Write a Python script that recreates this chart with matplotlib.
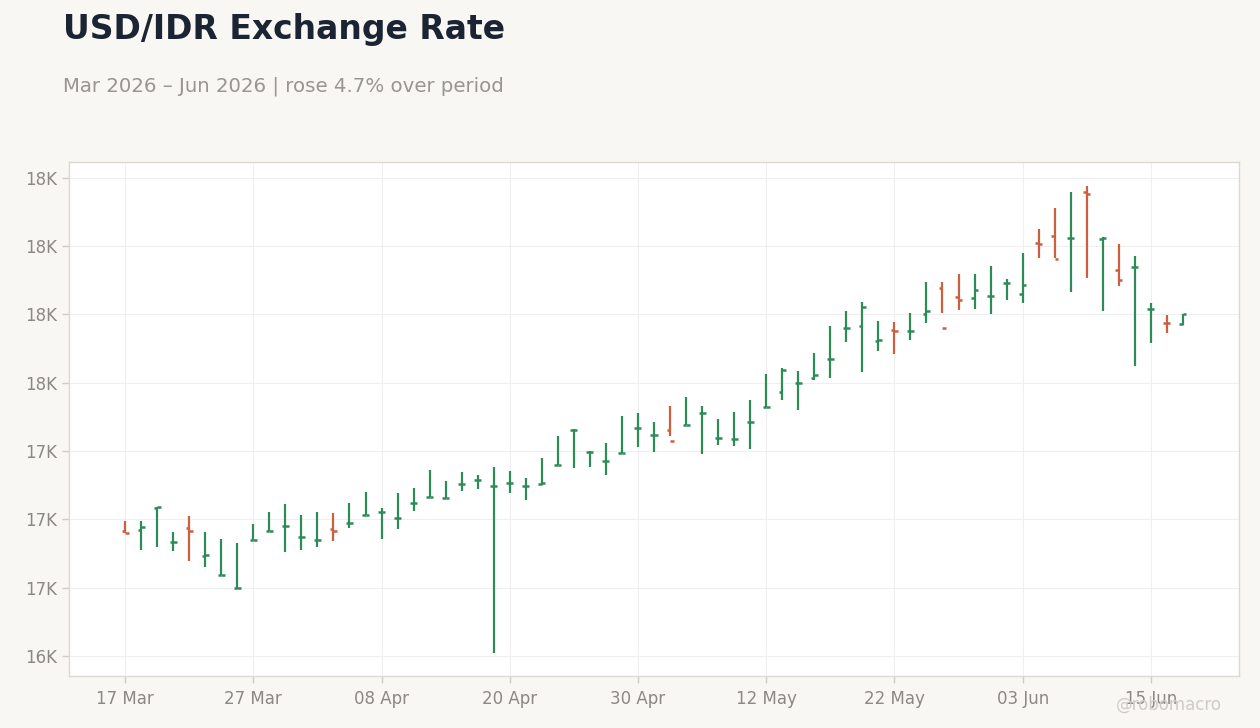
import numpy as np
import pandas as pd
import matplotlib
matplotlib.use("Agg")
import matplotlib.pyplot as plt
from matplotlib.ticker import FixedLocator, FuncFormatter

# daily OHLC, USD/IDR (business days from 17 Mar 2026)
dates = pd.bdate_range("2026-03-17", periods=67)

opens = [16956, 16962, 17042, 16918, 16970, 16867, 16797, 16750, 16925, 16958,
         16977, 16937, 16925, 16966, 16988, 17016, 17028, 17006, 17061, 17082,
         17080, 17131, 17145, 17124, 17134, 17124, 17131, 17199, 17328, 17248,
         17215, 17244, 17336, 17310, 17328, 17346, 17391, 17299, 17296, 17358,
         17413, 17468, 17501, 17519, 17588, 17702, 17709, 17654, 17695, 17691,
         17753, 17848, 17815, 17812, 17819, 17864, 17826, 18011, 18039, 18031,
         18200, 18028, 17912, 17922, 17771, 17720, 17715]
highs = [16994, 16994, 17047, 16954, 17012, 16954, 16928, 16915, 16983, 17027,
         17057, 17016, 17027, 17024, 17060, 17100, 17042, 17097, 17115, 17181,
         17141, 17174, 17163, 17192, 17177, 17152, 17225, 17305, 17331, 17250,
         17280, 17379, 17390, 17357, 17415, 17448, 17415, 17368, 17393, 17437,
         17532, 17554, 17543, 17609, 17708, 17763, 17796, 17726, 17723, 17756,
         17869, 17869, 17899, 17899, 17928, 17880, 17975, 18063, 18140, 18199,
         18221, 18033, 18008, 17964, 17792, 17748, 17752]
lows = [16950, 16888, 16900, 16884, 16849, 16827, 16797, 16746, 16925, 16958,
        16882, 16888, 16900, 16921, 16970, 17016, 16929, 16965, 17031, 17082,
        17077, 17105, 17112, 16512, 17098, 17072, 17127, 17199, 17189, 17193,
        17164, 17244, 17266, 17248, 17307, 17345, 17241, 17274, 17270, 17259,
        17411, 17438, 17402, 17512, 17519, 17651, 17541, 17618, 17607, 17658,
        17717, 17757, 17768, 17771, 17750, 17804, 17793, 17955, 17955, 17834,
        17885, 17764, 17856, 17563, 17647, 17684, 17713]
closes = [16952, 16973, 17044, 16919, 16959, 16868, 16798, 16750, 16925, 16958,
          16977, 16937, 16925, 16959, 16988, 17016, 17028, 17006, 17061, 17082,
          17080, 17131, 17145, 17124, 17134, 17124, 17134, 17199, 17328, 17248,
          17215, 17244, 17336, 17310, 17288, 17346, 17391, 17299, 17296, 17358,
          17413, 17548, 17501, 17530, 17588, 17702, 17779, 17658, 17691, 17691,
          17764, 17702, 17804, 17841, 17819, 17864, 17859, 18007, 17953, 18031,
          18191, 18031, 17878, 17922, 17771, 17717, 17750]

y_ticks = [16500, 16750, 17000, 17250, 17500, 17750, 18000, 18250]

UP = "#2e8b57"
DOWN = "#cc5f3e"

x = np.arange(len(dates))
o = np.array(opens)
c = np.array(closes)
colors = [UP if cc >= oo else DOWN for oo, cc in zip(o, c)]

fig = plt.figure(figsize=(12.6, 7.28), dpi=100, facecolor="#f8f7f4")
ax = fig.add_axes([69 / 1260, 1 - 676 / 728, 1170 / 1260, 514 / 728])
ax.set_facecolor("white")

tw = 0.22
ax.vlines(x, lows, highs, colors=colors, lw=1.6, zorder=3)
ax.hlines(o, x - tw, x, colors=colors, lw=1.8, zorder=3)
ax.hlines(c, x, x + tw, colors=colors, lw=1.8, zorder=3)

ax.set_xlim(-3.5, 69.5)
ax.set_ylim(16427, 18308)

ax.yaxis.set_major_locator(FixedLocator(y_ticks))
ax.yaxis.set_major_formatter(FuncFormatter(lambda v, _: f"{v / 1000:.0f}K"))
xt = x[::8]
ax.set_xticks(xt)
ax.set_xticklabels([dates[i].strftime("%d %b") for i in xt])

ax.grid(True, color="#efefef", lw=0.8, zorder=0)
ax.tick_params(colors="#d0ccc6", labelcolor="#8c8883", labelsize=12, length=5, width=1)
ax.tick_params(axis="x", pad=5)
for s in ax.spines.values():
    s.set_color("#dcd8d2")
    s.set_linewidth(1)

fig.text(63 / 1260, 1 - 29 / 728, "USD/IDR Exchange Rate", fontsize=23.8, fontweight="bold",
         color="#1b2433", va="center", ha="left")
fig.text(63 / 1260, 1 - 86 / 728, "Mar 2026 \u2013 Jun 2026 | rose 4.7% over period",
         fontsize=14.25, color="#999591", va="center", ha="left")
fig.text(1222 / 1260, 1 - 705 / 728, "@robomacro", fontsize=12, color="#cfcbc6",
         va="center", ha="right")

plt.savefig("out.png", dpi=100, facecolor=fig.get_facecolor())
